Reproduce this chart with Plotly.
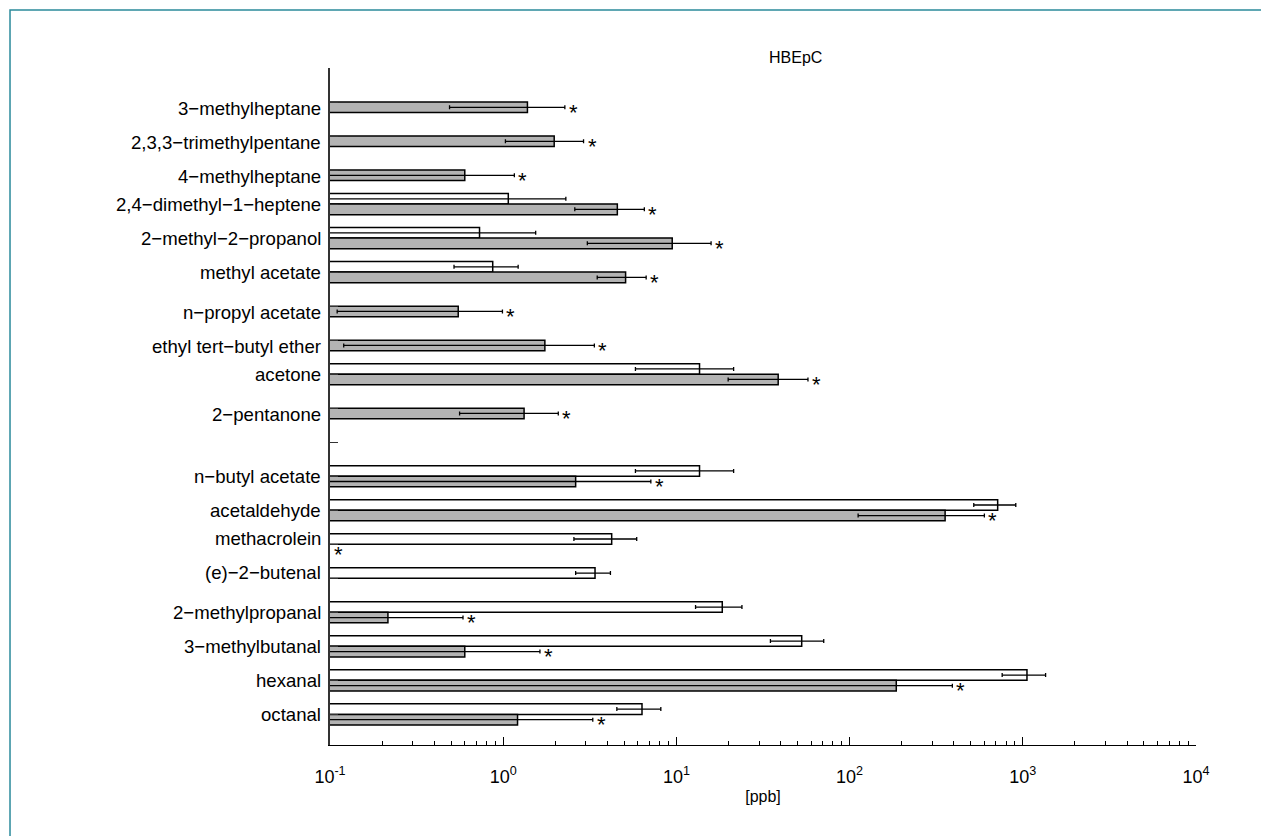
import numpy as np
import plotly.graph_objects as go

# ---------------- data ----------------
categories = [
    "3−methylheptane",
    "2,3,3−trimethylpentane",
    "4−methylheptane",
    "2,4−dimethyl−1−heptene",
    "2−methyl−2−propanol",
    "methyl acetate",
    "n−propyl acetate",
    "ethyl tert−butyl ether",
    "acetone",
    "2−pentanone",
    " ",
    "n−butyl acetate",
    "acetaldehyde",
    "methacrolein",
    "(e)−2−butenal",
    "2−methylpropanal",
    "3−methylbutanal",
    "hexanal",
    "octanal",
]
white_vals = [None, None, None, 1.07, 0.73, 0.87, None, None, 13.6, None,
              None, 13.6, 716, 4.23, 3.39, 18.4, 52.9, 1057, 6.33]
white_err = [None, None, None, 1.23, 0.81, 0.35, None, None, 7.8, None,
             None, 7.8, 195, 1.67, 0.77, 5.5, 18, 297, 1.8]
gray_vals = [1.38, 1.97, 0.60, 4.56, 9.46, 5.09, 0.55, 1.74, 38.7, 1.32,
             None, 2.62, 356, None, None, 0.216, 0.60, 186, 1.21]
gray_err = [0.89, 0.94, 0.56, 1.97, 6.4, 1.6, 0.44, 1.62, 18.8, 0.76,
            None, 4.5, 244, None, None, 0.37, 1.03, 206, 2.08]
significant = [True, True, True, True, True, True, True, True, True, True,
               False, True, True, True, False, True, True, True, True]
tick_vals = [0.1, 1, 10, 100, 1000, 10000]
tick_text = ["10<sup>-1</sup>", "10<sup>0</sup>", "10<sup>1</sup>",
             "10<sup>2</sup>", "10<sup>3</sup>", "10<sup>4</sup>"]
title_text = "HBEpC"
x_title = "[ppb]"

FONT = "Liberation Sans, Arial, sans-serif"

fig = go.Figure()
fig.add_trace(go.Bar(
    y=categories, x=white_vals, orientation="h", name="white",
    marker=dict(color="white", line=dict(color="black", width=1.5)),
    error_x=dict(type="data", array=white_err, color="black", thickness=1.3, width=2),
))
fig.add_trace(go.Bar(
    y=categories, x=gray_vals, orientation="h", name="gray",
    marker=dict(color="#b3b3b3", line=dict(color="black", width=1.5)),
    error_x=dict(type="data", array=gray_err, color="black", thickness=1.3, width=2),
))

annotations = []
# category labels
for cat, w, g in zip(categories, white_vals, gray_vals):
    if not cat.strip():
        continue
    shift = 0
    if w is None and g is not None:
        shift = -6
    elif g is None and w is not None:
        shift = 6
    annotations.append(dict(
        x=0, xref="paper", y=cat, yref="y", text=cat, showarrow=False,
        xanchor="right", yanchor="middle", xshift=-7, yshift=shift,
        font=dict(family=FONT, size=18.6, color="black"),
    ))
# significance stars
for cat, g, e, s in zip(categories, gray_vals, gray_err, significant):
    if not s:
        continue
    xpos = np.log10(g + e) if g is not None else np.log10(tick_vals[0])
    annotations.append(dict(
        x=xpos, xref="x", y=cat, yref="y", text="*", showarrow=False,
        xanchor="left", yanchor="middle", xshift=2, yshift=-10,
        font=dict(family=FONT, size=22, color="black"),
    ))
# title
annotations.append(dict(
    x=0.538, xref="paper", y=1.0148, yref="paper", text=title_text,
    showarrow=False, xanchor="center", yanchor="middle",
    font=dict(family=FONT, size=16, color="black"),
))

minor_vals = [k * 10.0 ** d for d in range(-1, 4) for k in range(2, 10)]

fig.update_layout(
    width=1269, height=836,
    margin=dict(l=322, r=81, t=60, b=99),
    paper_bgcolor="white", plot_bgcolor="white",
    barmode="group", bargap=0.38, bargroupgap=0,
    showlegend=False,
    font=dict(family=FONT, size=16, color="black"),
    annotations=annotations,
    shapes=[dict(type="rect", xref="paper", yref="paper",
                 x0=-0.3695, x1=1.0762, y0=-0.2, y1=1.0857,
                 line=dict(color="#2b8a9b", width=1.5), fillcolor="rgba(0,0,0,0)",
                 layer="below")],
    xaxis=dict(
        type="log", range=[-1, 4], tickvals=tick_vals, ticktext=tick_text,
        ticks="inside", ticklen=8, tickwidth=1, tickcolor="black",
        showline=True, linecolor="black", linewidth=1.2,
        showgrid=False, zeroline=False, ticklabelstandoff=15,
        tickfont=dict(family=FONT, size=18, color="black"),
        minor=dict(tickvals=minor_vals, ticks="inside", ticklen=4,
                   tickcolor="black", showgrid=False),
        title=dict(text=x_title, font=dict(family=FONT, size=16, color="black"),
                   standoff=5),
    ),
    yaxis=dict(
        type="category", categoryorder="array", categoryarray=categories,
        range=[len(categories) - 0.1, -1],
        showticklabels=False, ticks="inside", ticklen=8, tickcolor="#333",
        showline=True, linecolor="#333", linewidth=1.5,
        showgrid=False, zeroline=False,
    ),
)

fig.write_html("out.html")
